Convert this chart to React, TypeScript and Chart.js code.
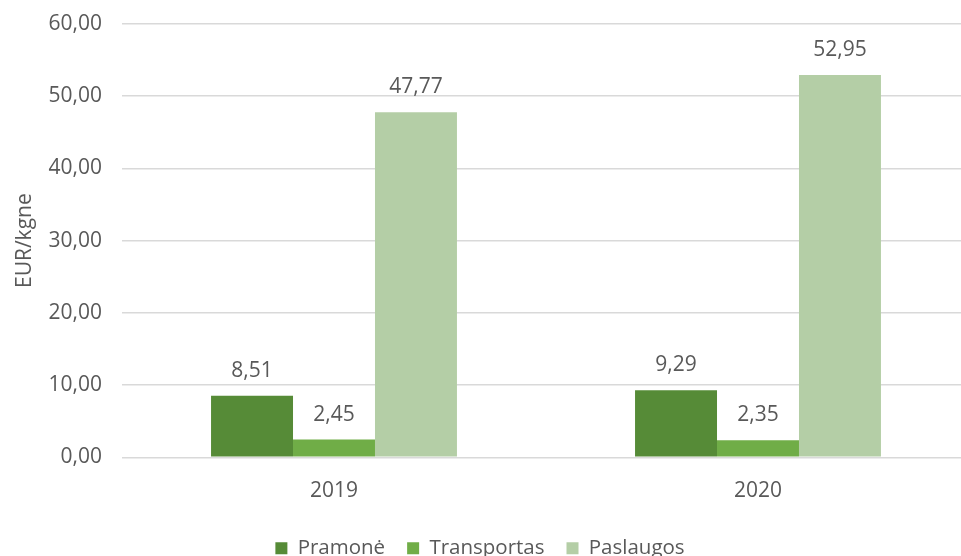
import React, { useEffect, useRef } from "react";
import { Chart, registerables } from "chart.js";

Chart.register(...registerables);

const categories = ["2019", "2020"];
const seriesNames = ["Pramonė", "Transportas", "Paslaugos"];
const pramone = [8.51, 9.29];
const transportas = [2.45, 2.35];
const paslaugos = [47.77, 52.95];
const colors = ["#568B37", "#70AD47", "#B4CEA6"];
const yTitle = "EUR/kgne";

const FONT = "'Open Sans', sans-serif";
const TEXT = "#595959";
const FS = 21;
const LFS = 20.5;

const fmt = (v: number, d = 2) => v.toFixed(d).replace(".", ",");

const labelPlugin = {
  id: "barLabels",
  afterDatasetsDraw(chart: any) {
    const ctx = chart.ctx;
    ctx.save();
    ctx.font = `${FS}px ${FONT}`;
    ctx.fillStyle = TEXT;
    ctx.textAlign = "center";
    ctx.textBaseline = "middle";
    chart.data.datasets.forEach((ds: any, i: number) => {
      const meta = chart.getDatasetMeta(i);
      meta.data.forEach((bar: any, j: number) => {
        ctx.fillText(fmt(ds.data[j]), bar.x, bar.y - 25);
      });
    });
    ctx.restore();
  },
};

const legendShift = {
  id: "legendShift",
  afterLayout(chart: any) {
    const lg = chart.legend;
    if (!lg) return;
    lg.right -= 10;
    const h = lg.bottom - lg.top;
    lg.top = 516;
    lg.bottom = 516 + h;
  },
};

export default function App() {
  const ref = useRef<HTMLCanvasElement>(null);
  useEffect(() => {
    if (!ref.current) return;
    const data = [pramone, transportas, paslaugos];
    const chart = new Chart(ref.current, {
      type: "bar",
      data: {
        labels: categories,
        datasets: seriesNames.map((name, i) => ({
          label: name,
          data: data[i],
          backgroundColor: colors[i],
          categoryPercentage: 0.58,
          barPercentage: 1,
        })),
      },
      options: {
        animation: false,
        responsive: false,
        maintainAspectRatio: false,
        layout: { padding: { left: 0, right: 10, top: 24, bottom: -21 } },
        plugins: {
          legend: {
            position: "bottom",
            labels: {
              boxWidth: 12,
              boxHeight: 12,
              padding: 22,
              color: TEXT,
              font: { family: FONT, size: LFS },
            },
          },
          tooltip: { enabled: false },
        },
        scales: {
          x: {
            grid: { display: false, drawTicks: false },
            border: { display: false },
            ticks: { color: TEXT, font: { family: FONT, size: FS }, padding: 21 },
          },
          y: {
            min: 0,
            max: 60,
            ticks: {
              stepSize: 10,
              color: TEXT,
              padding: 20,
              font: { family: FONT, size: FS },
              callback: (v: any) => fmt(Number(v)),
            },
            grid: { color: "#D9D9D9", lineWidth: 1.5, drawTicks: false },
            border: { display: false },
            title: {
              display: true,
              text: yTitle,
              color: TEXT,
              font: { family: FONT, size: FS },
              padding: { top: 12, bottom: 0 },
            },
            afterFit: (s: any) => {
              s.width = 122;
              s.paddingTop = 0;
              s.paddingBottom = 0;
            },
          },
        },
      },
      plugins: [labelPlugin, legendShift],
    });
    return () => chart.destroy();
  }, []);
  return (
    <div
      style={{
        position: "absolute",
        left: 0,
        top: 0,
        width: 961,
        height: 556,
        overflow: "hidden",
        background: "#fff",
      }}
    >
      <canvas ref={ref} width={980} height={556} style={{ display: "block" }} />
    </div>
  );
}
